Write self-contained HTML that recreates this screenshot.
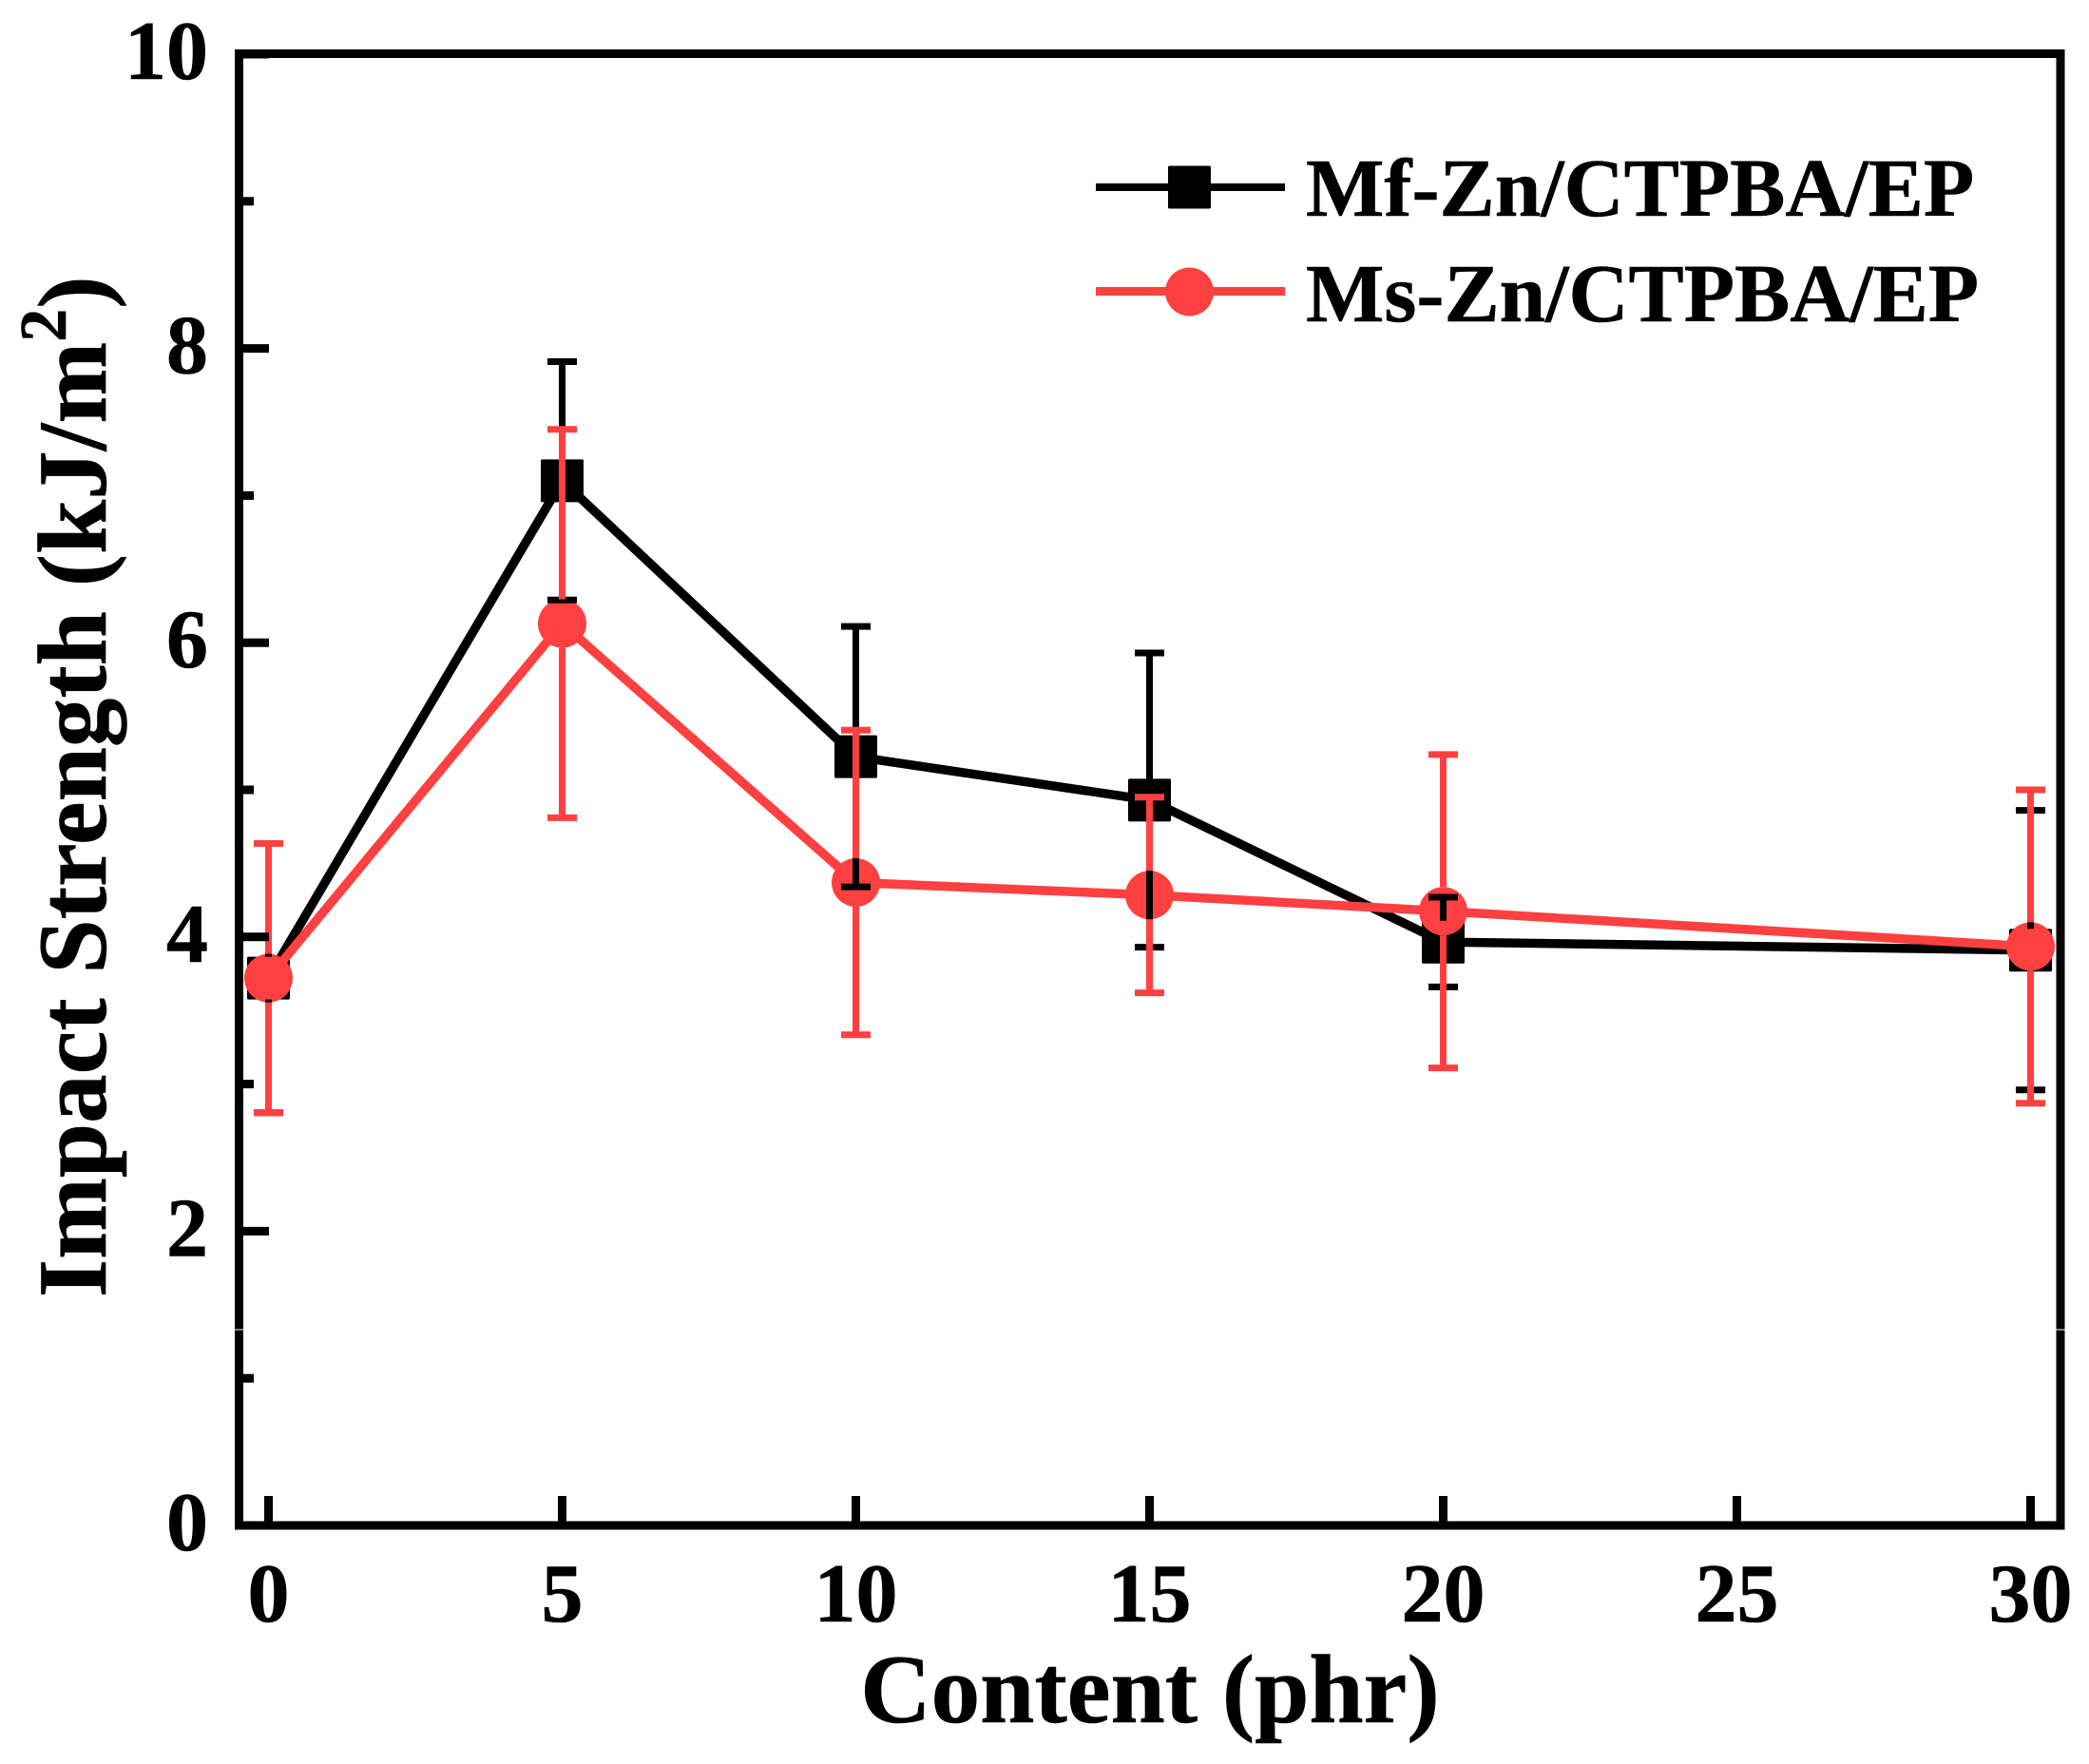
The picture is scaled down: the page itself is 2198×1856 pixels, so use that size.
<!DOCTYPE html>
<html lang="en">
<head>
<meta charset="utf-8">
<title>Impact Strength vs Content</title>
<style>
  html, body { margin: 0; padding: 0; background: #fff; }
  svg { display: block; }
  text { font-family: "Liberation Serif", serif; font-weight: bold; fill: #000; stroke: #000; stroke-width: 0.6px; }
</style>
</head>
<body>
<svg id="chart" xmlns="http://www.w3.org/2000/svg" width="2198" height="1856" viewBox="0 0 2198 1856">
  <rect x="0" y="0" width="2198" height="1856" fill="#fff"/>
  <text transform="translate(111 1365) rotate(-90)" font-size="103">Impact Strength (kJ/m<tspan font-size="70" dy="-42">2</tspan><tspan dy="42">)</tspan></text>
  <text x="1210" y="1812" font-size="103" text-anchor="middle">Content (phr)</text>
  <g>
    <g>
      <line x1="1153" x2="1352" y1="197" y2="197" stroke="#000" stroke-width="8"/>
      <rect x="1229" y="174.5" width="45" height="45" rx="1.5" fill="#000"/>
      <text x="1374" y="227" font-size="87.3">Mf-Zn/CTPBA/EP</text>
    </g>
    <g>
      <line x1="1153" x2="1352" y1="306.5" y2="306.5" stroke="#ff4040" stroke-width="9"/>
      <circle cx="1251.5" cy="307" r="25.5" fill="#ff4040"/>
      <text x="1374" y="338" font-size="87.3">Ms-Zn/CTPBA/EP</text>
    </g>
  </g>
</svg>
<script>
const categories = [0, 5, 10, 15, 20, 30];
const mfValues = [3.72, 7.10, 5.225, 4.93, 3.965, 3.91];
const mfErrors = [0.915, 0.81, 0.885, 1.00, 0.305, 0.95];
const msValues = [3.72, 6.13, 4.37, 4.285, 4.175, 3.935];
const msErrors = [0.915, 1.32, 1.035, 0.665, 1.065, 1.065];
const xTickLabels = [0, 5, 10, 15, 20, 25, 30];
const yTickLabels = [0, 2, 4, 6, 8, 10];
const yMinorTicks = [1, 3, 5, 7, 9];

const NS = 'http://www.w3.org/2000/svg';
const svg = document.getElementById('chart');
const xOf = v => 282.5 + 61.8 * v;
const yOf = v => 1605 - 154.8 * v;
const FRAME = { left: 251.5, right: 2168, top: 56.5, bottom: 1605 };
const SQUARE_HALF = 22.5;
const CIRCLE_R = 25.5;
const CAP_HALF = 15.5;
const BLACK = '#000';
const RED = '#ff4040';

function make(tag, attrs, parent) {
  const el = document.createElementNS(NS, tag);
  for (const k in attrs) el.setAttribute(k, attrs[k]);
  (parent || svg).appendChild(el);
  return el;
}

function group(name) {
  const g = make('g', {});
  
  
  return g;
}

function drawLine(parent, name, x1, y1, x2, y2, color, width) {
  const el = make('line', { x1, y1, x2, y2, stroke: color, 'stroke-width': width }, parent);
  
  
  return el;
}

function drawSeriesLine(parent, name, values, color) {
  const pts = categories.map((c, i) => xOf(c) + ',' + yOf(values[i])).join(' ');
  const el = make('polyline', { points: pts, fill: 'none', stroke: color, 'stroke-width': 9.5, 'stroke-linejoin': 'miter' }, parent);
  
  
}

function drawErrorBars(parent, name, values, errors, color, gap) {
  categories.forEach((c, i) => {
    const x = xOf(c);
    const cy = yOf(values[i]);
    const up = yOf(values[i] + errors[i]);
    const down = yOf(values[i] - errors[i]);
    if (up < cy - gap) drawLine(parent, name + '-upper-' + c, x, cy - gap, x, up, color, 7);
    if (down > cy + gap) drawLine(parent, name + '-lower-' + c, x, cy + gap, x, down, color, 7);
    drawLine(parent, name + '-cap-upper-' + c, x - CAP_HALF, up, x + CAP_HALF, up, color, 7);
    drawLine(parent, name + '-cap-lower-' + c, x - CAP_HALF, down, x + CAP_HALF, down, color, 7);
  });
}

/* series line and square for Mf */
const mfGroup = group('series-mf');
drawSeriesLine(mfGroup, 'series-mf-line', mfValues, BLACK);
categories.forEach((c, i) => {
  const el = make('rect', { x: xOf(c) - SQUARE_HALF, y: yOf(mfValues[i]) - SQUARE_HALF, width: SQUARE_HALF * 2, height: SQUARE_HALF * 2, rx: 1.5, fill: BLACK }, mfGroup);
  
  
});

/* series line and circle for Ms */
const msGroup = group('series-ms');
drawSeriesLine(msGroup, 'series-ms-line', msValues, RED);
categories.forEach((c, i) => {
  const el = make('circle', { cx: xOf(c), cy: yOf(msValues[i]), r: CIRCLE_R, fill: RED }, msGroup);
  
  
});

/* error bars */
const mfErrGroup = group('error-bars-mf');
drawErrorBars(mfErrGroup, 'error-mf', mfValues, mfErrors, BLACK, SQUARE_HALF);
const msErrGroup = group('error-bars-ms');
drawErrorBars(msErrGroup, 'error-ms', msValues, msErrors, RED, CIRCLE_R);

/* axes */
const axisGroup = group('axes');
const frame = make('rect', { x: FRAME.left, y: FRAME.top, width: FRAME.right - FRAME.left, height: FRAME.bottom - FRAME.top, fill: 'none', stroke: BLACK, 'stroke-width': 9 }, axisGroup);



xTickLabels.forEach(v => {
  drawLine(axisGroup, 'x-tick-' + v, xOf(v), FRAME.bottom, xOf(v), 1574, BLACK, 9);
  const t = make('text', { x: xOf(v), y: 1706, 'font-size': 88, 'text-anchor': 'middle' }, axisGroup);
  
  
  t.textContent = v;
});

yTickLabels.forEach(v => {
  drawLine(axisGroup, 'y-tick-' + v, FRAME.left, yOf(v), 283, yOf(v), BLACK, 9);
  const t = make('text', { x: 219, y: yOf(v) + 26, 'font-size': 88, 'text-anchor': 'end' }, axisGroup);
  
  
  t.textContent = v;
});

yMinorTicks.forEach(v => {
  drawLine(axisGroup, 'y-minor-tick-' + v, FRAME.left, yOf(v), 267, yOf(v), BLACK, 9);
});

/* thin white seam crossing the frame in the source image */
const seam = make('rect', { x: 240, y: 1398.5, width: 1940, height: 1, fill: '#fff' });


</script>
</body>
</html>
